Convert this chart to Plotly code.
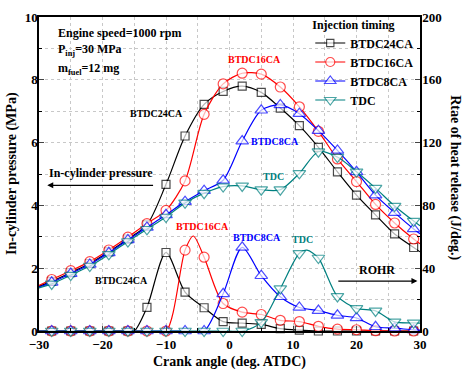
import plotly.graph_objects as go

# ---------------- data ----------------
series_names = ["BTDC24CA", "BTDC16CA", "BTDC8CA", "TDC"]
series_colors = ["#000000", "#ff0000", "#0000ff", "#008080"]
series_symbols = ["square", "circle", "triangle-up", "triangle-down"]
series_sizes = [8, 10, 11, 11]

# crank angle (deg. ATDC) at the symbol positions, plus the line ends at -30 / 30
crank_p = [-30, -28, -25, -22, -19, -16, -13, -10, -7, -4, -1, 2, 5, 8, 11, 14, 17, 20, 23, 26, 29, 30]
sym_p = [0] + [1] * 20 + [0]

# in-cylinder pressure (MPa)
p_btdc24 = [1.42, 1.58, 1.86, 2.15, 2.52, 2.93, 3.38, 4.67, 6.21, 7.22, 7.63, 7.80, 7.60, 7.10, 6.54, 5.85, 5.07, 4.33, 3.70, 3.09, 2.66, 2.52]
p_btdc16 = [1.45, 1.64, 1.92, 2.21, 2.58, 2.99, 3.42, 3.84, 4.78, 6.90, 7.87, 8.21, 8.18, 7.77, 7.14, 6.36, 5.48, 4.76, 4.03, 3.44, 2.93, 2.78]
p_btdc8 = [1.40, 1.55, 1.83, 2.12, 2.49, 2.90, 3.30, 3.70, 4.12, 4.47, 4.80, 6.05, 7.03, 7.20, 6.92, 6.38, 5.75, 5.07, 4.33, 3.77, 3.25, 3.10]
p_tdc = [1.37, 1.50, 1.78, 2.07, 2.44, 2.85, 3.24, 3.63, 4.08, 4.39, 4.60, 4.62, 4.50, 4.50, 5.02, 5.71, 5.54, 5.07, 4.55, 3.98, 3.50, 3.35]

# rate of heat release (J/deg.)
crank_r24 = [-30, -28, -25, -22, -19, -16, -15, -13, -10, -7, -4, -1, 2, 5, 8, 11, 14, 17, 20, 23, 26, 29, 30]
sym_r24 = [0, 1, 1, 1, 1, 1, 0, 1, 1, 1, 1, 1, 1, 1, 1, 1, 1, 1, 1, 1, 1, 1, 0]
r_btdc24 = [0, 0, 0, 0, 0, 0, 0, 15, 50, 24.8, 14.8, 6.0, 5.0, 4.2, 1.5, 0.5, 0, 0, 0, 0, 0, 0, 0]

crank_r16 = [-30, -28, -25, -22, -19, -16, -13, -10, -7, -5.7, -4, -1, 2, 5, 8, 11, 14, 17, 20, 23, 26, 29, 30]
sym_r16 = [0, 1, 1, 1, 1, 1, 1, 1, 1, 0, 1, 1, 1, 1, 1, 1, 1, 1, 1, 1, 1, 1, 0]
r_btdc16 = [0, 0, 0, 0, 0, 0, 0, 0, 51.5, 60.5, 47, 17.5, 12, 10.5, 6.8, 6.0, 3.0, 1.2, 0.8, 0.2, 0, 0, 0]

crank_r8 = [-30, -28, -25, -22, -19, -16, -13, -10, -7, -4, -1, 2, 5, 8, 11, 14, 17, 20, 23, 26, 29, 30]
sym_r8 = [0] + [1] * 20 + [0]
r_btdc8 = [0, 0, 0, 0, 0, 0, 0, 0, 0, 0, 23.7, 53.3, 35.2, 21.8, 15.0, 13.0, 10.0, 8.3, 2.7, 1.8, 0.7, 0.5]

crank_rt = [-30, -28, -25, -22, -19, -16, -13, -10, -7, -4, -1, 2, 5, 8, 11, 12.2, 14, 17, 20, 23, 26, 29, 30]
sym_rt = [0, 1, 1, 1, 1, 1, 1, 1, 1, 1, 1, 1, 1, 1, 1, 0, 1, 1, 1, 1, 1, 1, 0]
r_tdc = [0, 0, 0, 0, 0, 0, 0, 0, 0, 0, 0, 0, 5.5, 27, 49.5, 51.5, 46.5, 22, 14.4, 12.8, 5.8, 5.2, 5.0]

x_ticks = [-30, -20, -10, 0, 10, 20, 30]
y_ticks = [0, 2, 4, 6, 8, 10]
y2_ticks = [0, 40, 80, 120, 160, 200]

# ---------------- figure ----------------
FONT = "Liberation Serif"
fig = go.Figure()

pressure = [p_btdc24, p_btdc16, p_btdc8, p_tdc]
rohr = [(crank_r24, sym_r24, r_btdc24), (crank_r16, sym_r16, r_btdc16),
        (crank_r8, sym_r8, r_btdc8), (crank_rt, sym_rt, r_tdc)]


def marker(i, flags):
    return dict(symbol=series_symbols[i],
                size=[series_sizes[i] if f else 0 for f in flags],
                color="white",
                line=dict(color=series_colors[i], width=[1.2 if f else 0 for f in flags]))


for i, name in enumerate(series_names):
    fig.add_trace(go.Scatter(
        x=crank_p, y=pressure[i], name=name, legendgroup=name,
        mode="lines+markers", line=dict(color=series_colors[i], width=1.2, shape="spline", smoothing=0.8),
        marker=marker(i, sym_p), cliponaxis=False, yaxis="y"))

for i, name in enumerate(series_names):
    cx, flags, vals = rohr[i]
    fig.add_trace(go.Scatter(
        x=cx, y=vals, name=name, legendgroup=name, showlegend=False,
        mode="lines+markers", line=dict(color=series_colors[i], width=1.2, shape="spline", smoothing=0.8),
        marker=marker(i, flags), cliponaxis=False, yaxis="y2"))

tickfont = dict(family=FONT, size=13, color="black", weight="bold")
grid = dict(showgrid=True, gridcolor="#c8c8c8", griddash="dot", gridwidth=1)

fig.update_layout(
    width=466, height=376,
    margin=dict(l=39, r=46, t=10, b=45),
    paper_bgcolor="white", plot_bgcolor="white",
    font=dict(family=FONT, color="black"),
    xaxis=dict(range=[-30, 30], tickvals=x_ticks, ticks="inside", ticklen=5, tickwidth=1.2,
               showline=True, linecolor="black", linewidth=1.5, mirror=True, showgrid=False,
               zeroline=False, tickfont=tickfont, ticklabelstandoff=1,
               minor=dict(dtick=5, tick0=0, ticks="inside", ticklen=3, tickcolor="black", **grid)),
    yaxis=dict(range=[0, 10], tickvals=y_ticks, ticks="inside", ticklen=5, tickwidth=1.2,
               showline=True, linecolor="black", linewidth=1.5, showgrid=False, zeroline=False,
               tickfont=tickfont, ticklabelstandoff=-3,
               minor=dict(dtick=1, tick0=0, ticks="inside", ticklen=3, tickcolor="black", **grid)),
    yaxis2=dict(range=[0, 200], tickvals=y2_ticks, overlaying="y", side="right", ticks="inside",
                ticklen=5, tickwidth=1.2, showline=True, linecolor="black", linewidth=1.5,
                showgrid=False, zeroline=False, tickfont=tickfont, ticklabelstandoff=-2,
                minor=dict(dtick=20, tick0=0, ticks="inside", ticklen=3, tickcolor="black")),
    legend=dict(x=0.712, y=1.013, xanchor="left", yanchor="top", bgcolor="rgba(0,0,0,0)",
                borderwidth=0, itemwidth=30, tracegroupgap=0,
                font=dict(family=FONT, size=12, color="black", weight="bold"),
                title=dict(text="Injection timing", font=dict(family=FONT, size=12, color="black", weight="bold"))),
    showlegend=True,
)

ann = []


def label(text, x, y, color="black", size=10, xanchor="center"):
    ann.append(dict(text=text, x=x, y=y, xref="x", yref="y", showarrow=False, xanchor=xanchor,
                    yanchor="middle", font=dict(family=FONT, size=size, color=color, weight="bold")))


label("Engine speed=1000 rpm", -27.3, 9.5, size=12, xanchor="left")
label("P<sub>inj</sub>=30 MPa", -27.3, 8.94, size=12, xanchor="left")
label("m<sub>fuel</sub>=12 mg", -27.3, 8.36, size=12, xanchor="left")
label("In-cylinder pressure", -20.3, 5.03, size=12)
label("ROHR", 23.3, 1.93, size=12)
label("BTDC16CA", 3.9, 8.66, color=series_colors[1])
label("BTDC24CA", -11.5, 6.92, color=series_colors[0])
label("BTDC8CA", 7.1, 6.04, color=series_colors[2])
label("TDC", 6.9, 4.92, color=series_colors[3])
label("BTDC16CA", -4.3, 3.33, color=series_colors[1])
label("BTDC24CA", -17.0, 1.62, color=series_colors[0])
label("BTDC8CA", 4.4, 2.99, color=series_colors[2])
label("TDC", 11.5, 2.93, color=series_colors[3])

# arrows
ann.append(dict(text="", x=-28.7, y=4.64, ax=-11.8, ay=4.64, xref="x", yref="y", axref="x", ayref="y",
                showarrow=True, arrowhead=2, arrowsize=1, arrowwidth=1.2, arrowcolor="black"))
ann.append(dict(text="", x=29.6, y=1.59, ax=16.9, ay=1.59, xref="x", yref="y", axref="x", ayref="y",
                showarrow=True, arrowhead=2, arrowsize=1, arrowwidth=1.2, arrowcolor="black"))

# axis titles
title_font = dict(family=FONT, size=14, color="black", weight="bold")
ann.append(dict(text="Crank angle (deg. ATDC)", x=0.5, y=0, xref="paper", yref="paper", yshift=-31,
                showarrow=False, xanchor="center", yanchor="middle", font=title_font))
ann.append(dict(text="In-cylinder pressure (MPa)", x=0, y=0.5, xref="paper", yref="paper", xshift=-27,
                showarrow=False, xanchor="center", yanchor="middle", textangle=-90, font=title_font))
ann.append(dict(text="Rtae of heat release (J/deg.)", x=1, y=0.49, xref="paper", yref="paper", xshift=35,
                showarrow=False, xanchor="center", yanchor="middle", textangle=90, font=title_font))

fig.update_layout(annotations=ann)
fig.write_html("out.html", config={"displayModeBar": False},
               post_script="document.body.style.margin='0';document.body.style.padding='0';")
